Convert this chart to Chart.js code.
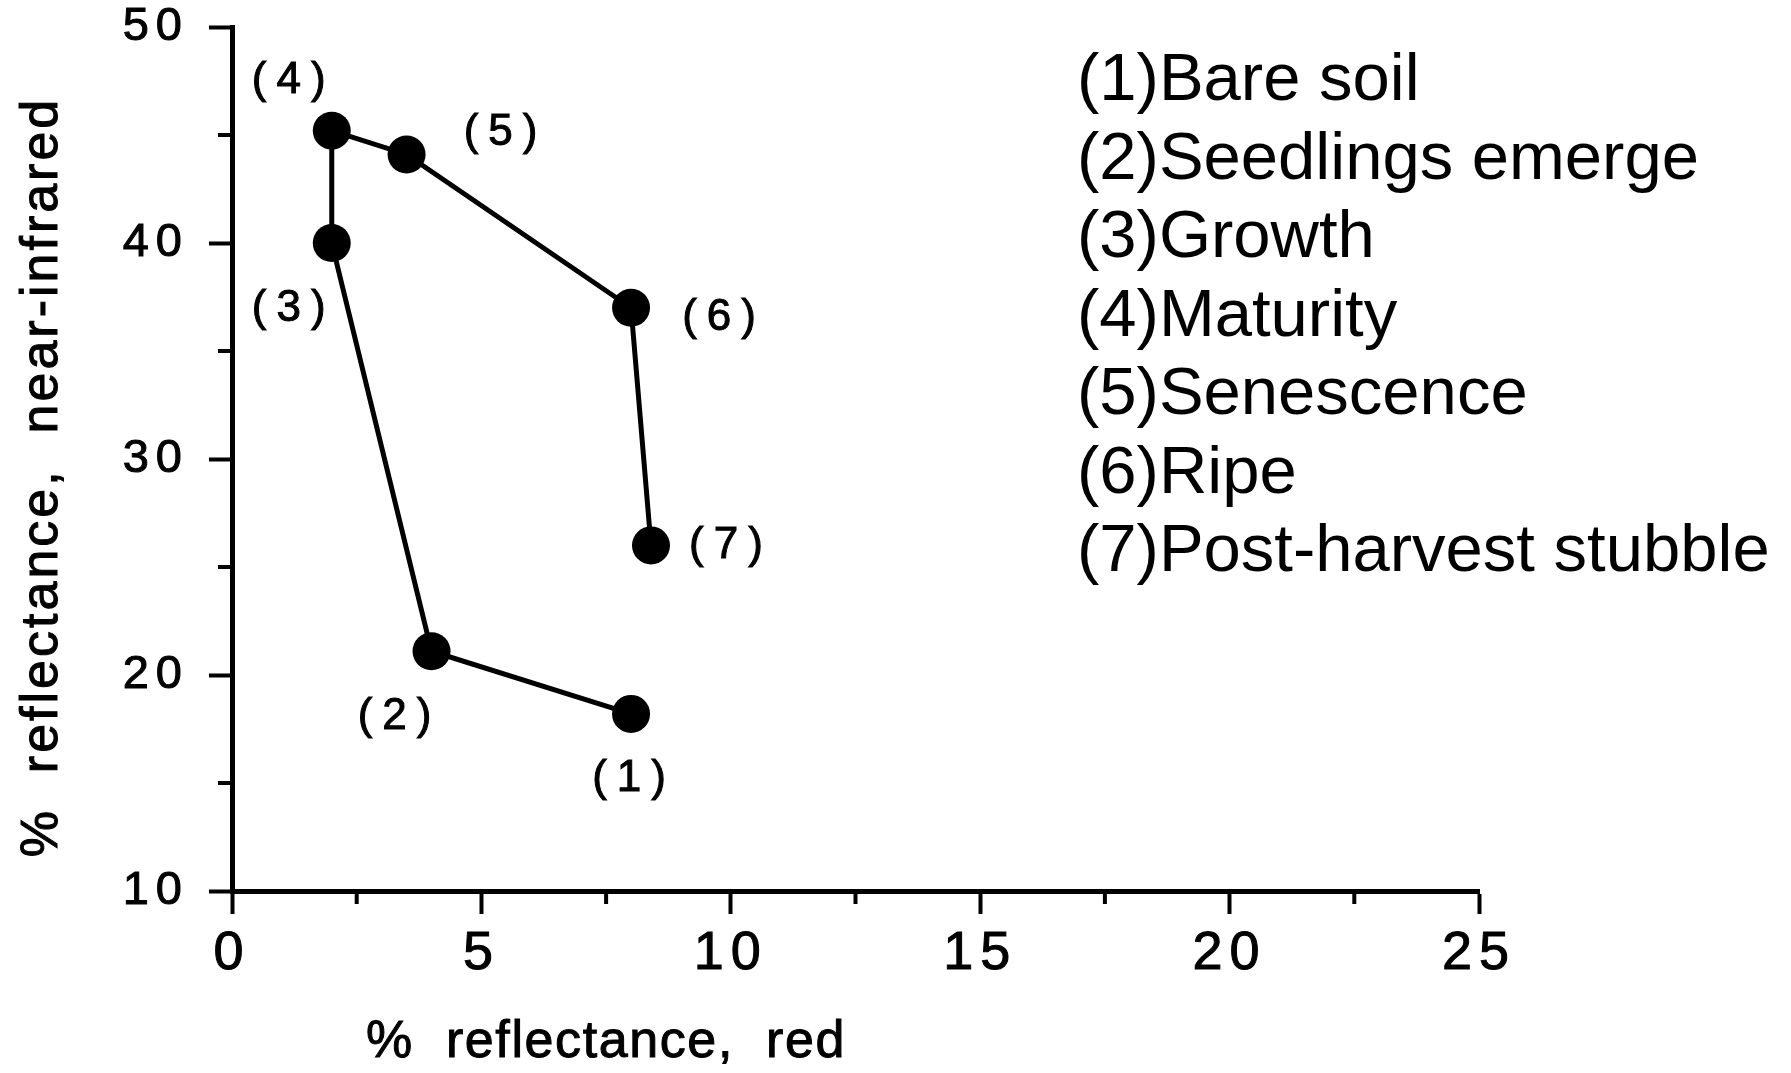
<!DOCTYPE html>
<html>
<head>
<meta charset="utf-8">
<script src="https://cdn.jsdelivr.net/npm/chart.js@4/dist/chart.umd.min.js"></script>
<style>
  html, body { margin: 0; padding: 0; background: #fff; }
  canvas { display: block; }
</style>
</head>
<body>
<canvas id="cropCycle" width="1791" height="1073"></canvas>
<script>
// growth stages of a crop, red vs near-infrared reflectance
const stageTags = ["(1)", "(2)", "(3)", "(4)", "(5)", "(6)", "(7)"];
const stageNames = ["Bare soil", "Seedlings emerge", "Growth", "Maturity", "Senescence", "Ripe", "Post-harvest stubble"];
const redReflectance = [8.0, 4.0, 2.0, 2.0, 3.5, 8.0, 8.4];
const nirReflectance = [18.2, 21.1, 40.0, 45.2, 44.1, 37.0, 26.0];
const xTickValues = [0, 5, 10, 15, 20, 25];
const yTickValues = [10, 20, 30, 40, 50];
const xMinorTicks = [2.5, 7.5, 12.5, 17.5, 22.5];
const yMinorTicks = [15, 25, 35, 45];

// where each stage tag sits relative to its point (px)
const tagOffsets = [[-2, 65], [-37, 66], [-43, 66], [-43, -50], [94, -22], [88, 10], [75, 0]];

const FONT = "'Liberation Sans', Arial, Helvetica, sans-serif";
const INK = "#000";

// filled text with a hairline stroke so it reads a little heavier
function inkText(ctx, text, x, y) {
  ctx.fillText(text, x, y);
  ctx.strokeText(text, x, y);
}

const extras = {
  id: "extras",
  beforeDraw(chart) {
    chart.ctx.letterSpacing = "7px";
  },
  afterDraw(chart) {
    const ctx = chart.ctx;
    const xs = chart.scales.x;
    const ys = chart.scales.y;
    ctx.save();

    // minor ticks
    ctx.strokeStyle = "#000";
    ctx.lineWidth = 4;
    ctx.beginPath();
    xMinorTicks.forEach((v) => {
      const px = xs.getPixelForValue(v);
      ctx.moveTo(px, ys.bottom);
      ctx.lineTo(px, ys.bottom + 13);
    });
    yMinorTicks.forEach((v) => {
      const py = ys.getPixelForValue(v);
      ctx.moveTo(xs.left, py);
      ctx.lineTo(xs.left - 14, py);
    });
    ctx.stroke();

    // stage tags next to points
    ctx.fillStyle = INK;
    ctx.strokeStyle = INK;
    ctx.lineWidth = 1;
    ctx.font = "44px " + FONT;
    ctx.letterSpacing = "10px";
    ctx.textAlign = "center";
    ctx.textBaseline = "middle";
    chart.getDatasetMeta(0).data.forEach((pt, i) => {
      inkText(ctx, stageTags[i], pt.x + tagOffsets[i][0] + 5, pt.y + tagOffsets[i][1]);
    });

    // axis titles
    ctx.font = "52px " + FONT;
    ctx.letterSpacing = "1.6px";
    ctx.textAlign = "left";
    ctx.textBaseline = "alphabetic";
    inkText(ctx, "%  reflectance,  red", 366, 1057);

    ctx.save();
    ctx.translate(57, 477);
    ctx.rotate(-Math.PI / 2);
    ctx.letterSpacing = "3px";
    ctx.textAlign = "center";
    inkText(ctx, "%  reflectance,  near-infrared", 0, 0);
    ctx.restore();

    // stage key
    ctx.letterSpacing = "0px";
    ctx.font = "67px " + FONT;
    stageNames.forEach((name, i) => {
      ctx.fillText(stageTags[i] + name, 1077, 100 + i * 78.5);
    });
    ctx.restore();
  }
};

new Chart(document.getElementById("cropCycle"), {
  type: "scatter",
  data: {
    datasets: [{
      data: redReflectance.map((x, i) => ({ x, y: nirReflectance[i] })),
      showLine: true,
      borderColor: "#000",
      borderWidth: 5,
      pointRadius: 19,
      pointBorderWidth: 0,
      pointBackgroundColor: "#000",
      tension: 0,
      clip: false
    }]
  },
  options: {
    responsive: false,
    animation: false,
    events: [],
    layout: { padding: { top: 27, right: 312, left: 0, bottom: 0 } },
    plugins: { legend: { display: false }, tooltip: { enabled: false } },
    scales: {
      x: {
        type: "linear",
        min: 0,
        max: 25,
        afterBuildTicks: (s) => { s.ticks = xTickValues.map((v) => ({ value: v })); },
        afterFit: (s) => { s.height = 182; s.paddingLeft = 0; s.paddingRight = 0; },
        grid: { drawOnChartArea: false, drawTicks: true, tickLength: 23, tickWidth: 4, color: "#000" },
        border: { color: "#000", width: 5 },
        ticks: { color: INK, font: { family: FONT, size: 54 }, padding: 8, maxRotation: 0, textStrokeColor: INK, textStrokeWidth: 1 }
      },
      y: {
        type: "linear",
        min: 10,
        max: 50,
        afterBuildTicks: (s) => { s.ticks = yTickValues.map((v) => ({ value: v })); },
        afterFit: (s) => { s.width = 232; s.paddingTop = 0; s.paddingBottom = 0; },
        grid: { drawOnChartArea: false, drawTicks: true, tickLength: 23, tickWidth: 4, color: "#000" },
        border: { color: "#000", width: 5 },
        ticks: { color: INK, font: { family: FONT, size: 47 }, padding: 20, textStrokeColor: INK, textStrokeWidth: 1 }
      }
    }
  },
  plugins: [extras]
});
</script>
</body>
</html>
